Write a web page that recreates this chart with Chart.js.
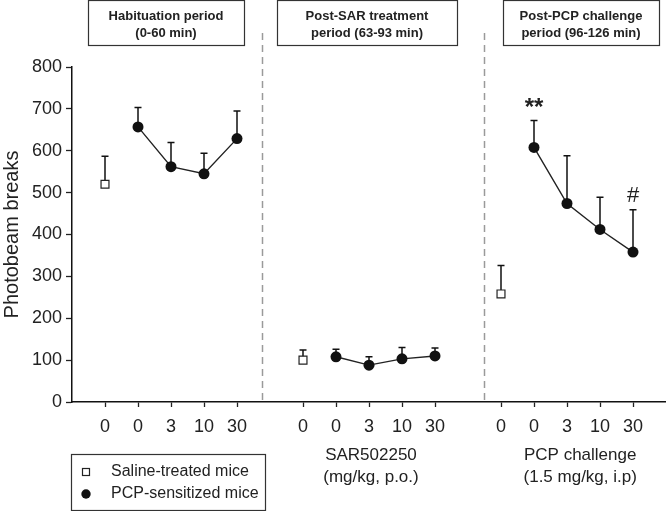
<!DOCTYPE html>
<html><head><meta charset="utf-8">
<script src="https://cdn.jsdelivr.net/npm/chart.js@4.4.1/dist/chart.umd.min.js"></script>
<style>html,body{margin:0;padding:0;background:#fff}#w{width:666px;height:511px;position:relative}</style>
</head><body><div id="w"><canvas id="c" width="666" height="511"></canvas></div>
<script>
// ---- data ----
const doseLabels = ['0', '0', '3', '10', '30'];
const panelX = [[1, 2, 3, 4, 5], [7, 8, 9, 10, 11], [13, 14, 15, 16, 17]];
const panelTitles = [['Habituation period', '(0-60 min)'], ['Post-SAR treatment', 'period (63-93 min)'], ['Post-PCP challenge', 'period (96-126 min)']];
const salineMean = [520, 100, 258];
const salineSem = [67, 24, 68];
const pcpHabMean = [657, 562, 545, 629];
const pcpHabSem = [46, 58, 49, 66];
const pcpSarMean = [108, 88, 103, 110];
const pcpSarSem = [18, 20, 27, 19];
const pcpChalMean = [608, 474, 412, 358];
const pcpChalSem = [64, 114, 77, 101];
const yTicks = [0, 100, 200, 300, 400, 500, 600, 700, 800];
const seriesNames = ['Saline-treated mice', 'PCP-sensitized mice'];
const annotations = [{x: 14, text: '**'}, {x: 17, text: '#'}];

const FONT = '"Liberation Sans", Arial, Helvetica, sans-serif';
const tickPositions = panelX.flat();
const tickLabelMap = {};
panelX.forEach(p => p.forEach((v, i) => tickLabelMap[v] = doseLabels[i]));

const pcpMeans = [pcpHabMean, pcpSarMean, pcpChalMean];
const pcpSems = [pcpHabSem, pcpSarSem, pcpChalSem];

const datasets = [];
datasets.push({
  label: seriesNames[0],
  data: salineMean.map((m, i) => ({x: panelX[i][0], y: m, e: salineSem[i]})),
  showLine: false,
  pointStyle: 'rect', pointRadius: 5.6, pointBackgroundColor: '#fff',
  pointBorderColor: '#222', pointBorderWidth: 1.2
});
pcpMeans.forEach((arr, p) => {
  datasets.push({
    label: seriesNames[1],
    data: arr.map((m, i) => ({x: panelX[p][i + 1], y: m, e: pcpSems[p][i]})),
    showLine: true, borderColor: '#222', borderWidth: 1.4,
    pointStyle: 'circle', pointRadius: 5.5, pointBackgroundColor: '#111',
    pointBorderColor: '#111', pointBorderWidth: 0
  });
});

const overlay = {
  id: 'overlay',
  beforeDatasetsDraw(chart) {
    const ctx = chart.ctx, xs = chart.scales.x, ys = chart.scales.y;
    // dashed separators
    ctx.save();
    ctx.strokeStyle = '#9a9a9a'; ctx.lineWidth = 1.5; ctx.setLineDash([7, 5]);
    [5.76, 12.48].forEach(v => {
      const px = Math.round(xs.getPixelForValue(v)) + 0.5;
      ctx.beginPath(); ctx.moveTo(px, 33); ctx.lineTo(px, ys.getPixelForValue(0)); ctx.stroke();
    });
    ctx.restore();
    // error bars (upper only)
    ctx.save();
    ctx.strokeStyle = '#111'; ctx.lineWidth = 1.5;
    chart.data.datasets.forEach(ds => ds.data.forEach(d => {
      const px = xs.getPixelForValue(d.x), py = ys.getPixelForValue(d.y), pt = ys.getPixelForValue(d.y + d.e);
      ctx.beginPath(); ctx.moveTo(px, py); ctx.lineTo(px, pt);
      ctx.moveTo(px - 3.5, pt); ctx.lineTo(px + 3.5, pt); ctx.stroke();
    }));
    ctx.restore();
  },
  afterDraw(chart) {
    const ctx = chart.ctx, xs = chart.scales.x, ys = chart.scales.y;
    ctx.save();
    // title boxes
    const boxes = [[88, 244], [277, 457], [503, 659]];
    boxes.forEach((b, i) => {
      ctx.strokeStyle = '#333'; ctx.lineWidth = 1.2;
      ctx.strokeRect(b[0] + 0.5, 0.5, b[1] - b[0], 45);
      ctx.fillStyle = '#222'; ctx.font = 'bold 13px ' + FONT;
      ctx.textAlign = 'center'; ctx.textBaseline = 'middle';
      const cx = (b[0] + b[1]) / 2;
      ctx.fillText(panelTitles[i][0], cx, 16);
      ctx.fillText(panelTitles[i][1], cx, 33);
    });
    // annotations
    ctx.fillStyle = '#222'; ctx.textAlign = 'center'; ctx.textBaseline = 'middle';
    annotations.forEach(a => {
      const ds = chart.data.datasets;
      let top = null;
      ds.forEach(d => d.data.forEach(p => { if (p.x === a.x) top = p.y + p.e; }));
      ctx.font = (a.text === '**' ? 'bold 24px ' : '22px ') + FONT;
      ctx.fillText(a.text, xs.getPixelForValue(a.x), ys.getPixelForValue(top) - (a.text === '**' ? 12 : 14));
    });
    // x axis group titles
    ctx.font = '17px ' + FONT; ctx.fillStyle = '#222';
    ctx.fillText('SAR502250', xs.getPixelForValue(9.06), 455);
    ctx.fillText('(mg/kg, p.o.)', xs.getPixelForValue(9.06), 477);
    ctx.fillText('PCP challenge', xs.getPixelForValue(15.4), 455);
    ctx.fillText('(1.5 mg/kg, i.p)', xs.getPixelForValue(15.4), 477);
    // legend
    ctx.strokeStyle = '#333'; ctx.lineWidth = 1.2;
    ctx.strokeRect(71.5, 454.5, 194, 56);
    ctx.fillStyle = '#fff'; ctx.fillRect(82, 468, 8, 8);
    ctx.strokeStyle = '#222'; ctx.strokeRect(82.5, 468.5, 7, 7);
    ctx.fillStyle = '#111'; ctx.beginPath(); ctx.arc(86, 494, 4.7, 0, Math.PI * 2); ctx.fill();
    ctx.fillStyle = '#222'; ctx.font = '16px ' + FONT; ctx.textAlign = 'left';
    ctx.fillText(seriesNames[0], 111, 472);
    ctx.fillText(seriesNames[1], 111, 494);
    ctx.restore();
  }
};

new Chart(document.getElementById('c'), {
  type: 'scatter',
  data: {datasets},
  options: {
    responsive: false, animation: false,
    layout: {autoPadding: false, padding: {top: 67, right: 0, left: 0, bottom: 0}},
    plugins: {legend: {display: false}, tooltip: {enabled: false}},
    scales: {
      x: {
        type: 'linear', min: 0, max: 18,
        afterBuildTicks(s) { s.ticks = tickPositions.map(v => ({value: v})); },
        afterFit(s) { s.height = 109; s.paddingRight = 0; s.paddingLeft = 0; },
        ticks: {callback: v => tickLabelMap[v], color: '#222', font: {family: FONT, size: 18}, padding: 9, maxRotation: 0, autoSkip: false},
        grid: {drawOnChartArea: false, tickLength: 5, color: '#222', tickWidth: 1.3},
        border: {display: true, color: '#111', width: 1.5}
      },
      y: {
        min: 0, max: 800,
        afterBuildTicks(s) { s.ticks = yTicks.map(v => ({value: v})); },
        afterFit(s) { s.width = 72; },
        ticks: {color: '#222', font: {family: FONT, size: 18}, padding: 4},
        grid: {drawOnChartArea: false, tickLength: 6, color: '#222', tickWidth: 1.3},
        border: {display: true, color: '#111', width: 1.5},
        title: {display: true, text: 'Photobeam breaks', color: '#222', font: {family: FONT, size: 20}, padding: 0}
      }
    }
  },
  plugins: [overlay]
});
</script></body></html>
